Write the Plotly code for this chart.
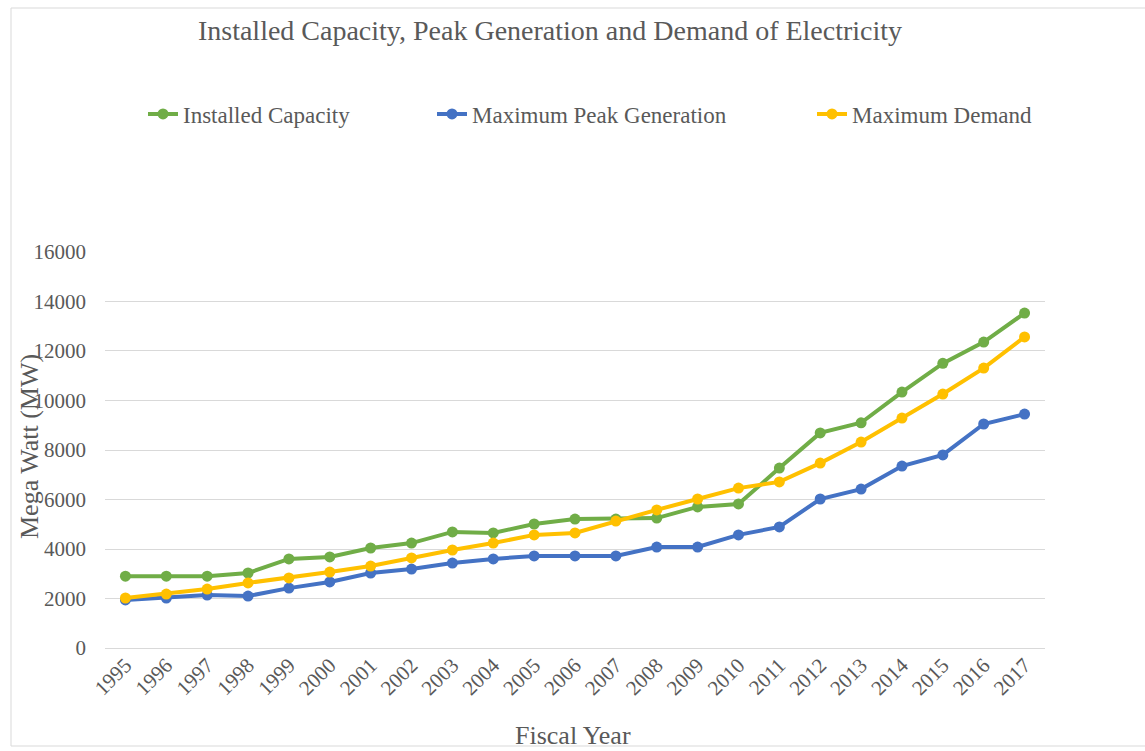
import plotly.graph_objects as go

years = [str(y) for y in range(1995, 2018)]
installed_capacity = [2900, 2900, 2900, 3030, 3600, 3680, 4040, 4240, 4690, 4650, 5010, 5210,
                      5210, 5250, 5700, 5820, 7270, 8690, 9100, 10340, 11500, 12360, 13530]
peak_generation = [1940, 2020, 2140, 2100, 2420, 2670, 3030, 3190, 3430, 3600, 3720, 3720,
                   3720, 4080, 4080, 4570, 4890, 6020, 6420, 7350, 7800, 9050, 9450]
max_demand = [2020, 2180, 2380, 2630, 2830, 3070, 3310, 3640, 3960, 4240, 4570, 4650,
              5130, 5580, 6020, 6460, 6710, 7470, 8320, 9290, 10260, 11310, 12570]

series_names = ["Installed Capacity", "Maximum Peak Generation", "Maximum Demand"]
series_colors = ["#70AD47", "#4472C4", "#FFC000"]
y_ticks = list(range(0, 16001, 2000))
y_tick_labels = [str(v) for v in y_ticks]

FONT = "Liberation Serif, Times New Roman, serif"
GRAY = "#595959"

fig = go.Figure()
for i, (name, vals, col) in enumerate(zip(series_names,
                                          [installed_capacity, peak_generation, max_demand],
                                          series_colors)):
    fig.add_trace(go.Scatter(
        x=years, y=vals, name=name, mode="lines+markers",
        line=dict(color=col, width=4),
        marker=dict(color=col, size=11, symbol="circle"),
        legend="legend" if i == 0 else f"legend{i+1}",
        showlegend=True,
    ))

W, H = 1145, 751
L, R, T, B = 105, 100, 251, 103
pw, ph = W - L - R, H - T - B

def px_x(p):
    return (p - L) / pw

def px_y(p):
    return (H - B - p) / ph

leg_common = dict(orientation="h", yanchor="middle", xanchor="left",
                  font=dict(family=FONT, size=23, color=GRAY),
                  bgcolor="rgba(0,0,0,0)", itemwidth=30)

fig.update_layout(
    width=W, height=H,
    showlegend=True,
    margin=dict(l=L, r=R, t=T, b=B, autoexpand=False),
    paper_bgcolor="white", plot_bgcolor="white",
    title=dict(text="Installed Capacity, Peak Generation and Demand of Electricity",
               x=550 / W, xref="container", xanchor="center",
               y=1 - 30 / H, yref="container", yanchor="middle",
               font=dict(family=FONT, size=28, color=GRAY)),
    legend=dict(x=px_x(143), y=px_y(114), **leg_common),
    legend2=dict(x=px_x(432), y=px_y(114), **leg_common),
    legend3=dict(x=px_x(812), y=px_y(114), **leg_common),
    xaxis=dict(type="category", tickangle=-45, showgrid=False, showline=False,
               ticks="", range=[-0.5, len(years) - 0.5],
               tickfont=dict(family=FONT, size=21, color=GRAY)),
    yaxis=dict(range=[0, 16040], tickvals=y_ticks, ticktext=y_tick_labels,
               showgrid=True, gridcolor="#d9d9d9",
               gridwidth=1, zeroline=True, zerolinecolor="#d9d9d9", zerolinewidth=1,
               showline=False, ticks="", ticklabelstandoff=18,
               tickfont=dict(family=FONT, size=21, color=GRAY)),
    annotations=[
        dict(text="Mega Watt (MW)", textangle=-90, xref="paper", yref="paper",
             x=px_x(29), y=px_y(447), xanchor="center", yanchor="middle",
             showarrow=False, font=dict(family=FONT, size=26, color=GRAY)),
        dict(text="Fiscal Year", xref="paper", yref="paper",
             x=px_x(573), y=px_y(735), xanchor="center", yanchor="middle",
             showarrow=False, font=dict(family=FONT, size=26, color=GRAY)),
    ],
    shapes=[dict(type="rect", xref="paper", yref="paper",
                 x0=px_x(11), x1=px_x(1160), y0=px_y(746), y1=px_y(8),
                 line=dict(color="#d9d9d9", width=1), layer="below")],
)

fig.write_html("out.html", config={"displayModeBar": False},
               post_script="document.body.style.margin='0px';")
